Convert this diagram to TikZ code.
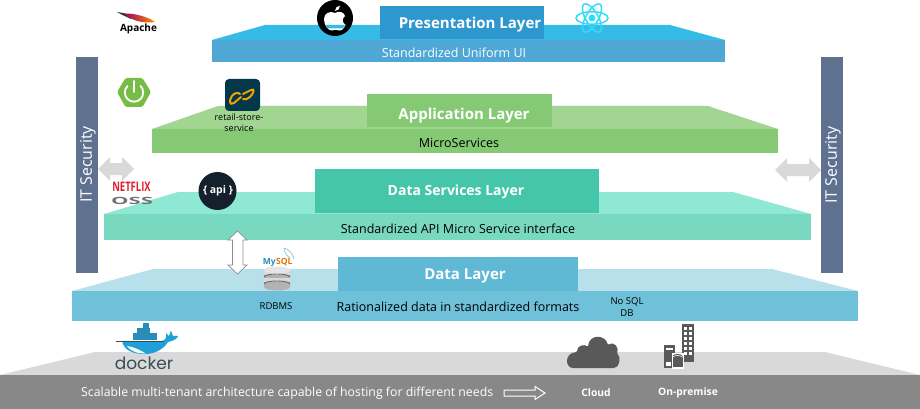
\documentclass[tikz,border=0pt]{standalone}
\usepackage{fontspec}
\setmainfont{Open Sans}
\newfontfamily\dockfont{Poppins}
\usetikzlibrary{calc}
\definecolor{preF}{HTML}{4FA7D6}\definecolor{preT}{HTML}{36BBE7}\definecolor{preB}{HTML}{2E97CE}
\definecolor{appF}{HTML}{85C974}\definecolor{appT}{HTML}{A2D492}\definecolor{appB}{HTML}{85C974}
\definecolor{dsF}{HTML}{79D9C0}\definecolor{dsT}{HTML}{8FE8D4}\definecolor{dsB}{HTML}{45C6A8}
\definecolor{daF}{HTML}{6EC1D8}\definecolor{daT}{HTML}{B8E0EB}\definecolor{daB}{HTML}{5FB8D4}
\definecolor{grF}{HTML}{888888}\definecolor{grT}{HTML}{D9D9D9}
\definecolor{sec}{HTML}{5E7290}\definecolor{icon}{HTML}{595959}
\definecolor{dockB}{HTML}{2A8DB8}\definecolor{dockL}{HTML}{1FA0D8}\definecolor{dockT}{HTML}{394D54}
\definecolor{reactC}{HTML}{2FDCFB}\definecolor{springC}{HTML}{77BC45}\definecolor{retailC}{HTML}{03384A}
\definecolor{chainC}{HTML}{F5A000}\definecolor{apiC}{HTML}{14202B}\definecolor{nfxC}{HTML}{E0202E}
\tikzset{
 lbl/.style={inner sep=0pt,align=center,font=\fontsize{12.5}{14}\selectfont},
 small/.style={inner sep=0pt,align=center,font=\fontsize{9.5}{12}\selectfont},
 ttl/.style={inner sep=0pt,font=\fontsize{15}{18}\selectfont\bfseries},
 sect/.style={text=white,rotate=90,inner sep=0pt,font=\fontsize{16}{18}\selectfont},
 secbar/.style={fill=sec,draw=none},
 gbar/.style={fill=grT,draw=none},
 basebold/.style={text=white,inner sep=0pt,font=\fontsize{10.3}{12}\selectfont\bfseries},
}
\begin{document}
\begin{tikzpicture}[x=1pt,y=-1pt]
\useasboundingbox (0,0) rectangle (920,409);
\fill[white] (0,0) rectangle (920,409);
% base
\fill[grT] (0,375) -- (95,352) -- (825,352) -- (920,375) -- cycle;
\fill[grF] (0,375) rectangle (920,409);
% data layer
\fill[daT] (72,291) -- (153,269) -- (772,269) -- (858,291) -- cycle;
\fill[daF] (72,291) rectangle (858,321);
\fill[daB] (338,257) rectangle (578,291);
\node[ttl,text=white] (dat) at (465,276) {Data Layer};
\node[lbl] (datl) at (458,306.5) {Rationalized data in standardized formats};
% data services
\fill[dsT] (104,214) -- (178,192) -- (733,192) -- (811,214) -- cycle;
\fill[dsF] (104,214) rectangle (811,240);
\fill[dsB] (315,169) rectangle (599,213);
\node[ttl,text=white,font=\fontsize{14}{18}\selectfont\bfseries] (dst) at (456,192) {Data Services Layer};
\node[lbl] (dsl) at (458,229) {Standardized API Micro Service interface};
% application
\fill[appT] (152,129) -- (218,106) -- (708,106) -- (778,129) -- cycle;
\fill[appF] (152,129) rectangle (778,153);
\fill[appB] (367,94) rectangle (552,127);
\node[ttl,text=white] (apt) at (464,116) {Application Layer};
\node[lbl] (apl) at (459,142.5) {MicroServices};
% presentation
\fill[preT] (212,40) -- (265,25) -- (670,25) -- (725,40) -- cycle;
\fill[preF] (212,40) rectangle (725,62);
\fill[preB] (380,6) rectangle (544,39);
\node[ttl,text=white] (prt) at (470,25) {Presentation Layer};
\node[lbl,text=white] (prl) at (454,52.5) {Standardized Uniform UI};
% security
\fill[secbar] (76,57) rectangle (98,273);
\fill[secbar] (821,57) rectangle (843,273);
\node[sect] (secl) at (88,164.5) {IT Security};
\node[sect] (secr) at (833,165) {IT Security};
% grey double arrows
\fill[gbar] (98,169) -- (110,157) -- (110,163) -- (122,163) -- (122,157) -- (134,169) -- (122,181) -- (122,175) -- (110,175) -- (110,181) -- cycle;
\fill[gbar] (775,170) -- (787,158) -- (787,164) -- (809,164) -- (809,158) -- (821,170) -- (809,182) -- (809,176) -- (787,176) -- (787,182) -- cycle;
% vertical arrow
\draw[draw=black!45,fill=white,line width=.7pt] (237.5,231) -- (247,240) -- (243,240) -- (243,265) -- (247,265) -- (237.5,274) -- (228,265) -- (232.5,265) -- (232.5,240) -- (228,240) -- cycle;
% base texts
\node[anchor=west,text=white,inner sep=0pt,font=\fontsize{12.3}{14}\selectfont] (base) at (81,393) {Scalable multi-tenant architecture capable of hosting for different needs};
\draw[white,fill=grF,line width=1pt] (504,390) -- (535,390) -- (535,386.5) -- (545,393) -- (535,399.5) -- (535,396) -- (504,396) -- cycle;
\node[basebold] (cl) at (596,392.5) {Cloud};
\node[basebold] (onp) at (688,393) {On-premise};
\node[small] (rdb) at (276,306.5) {RDBMS};
\node[small] (nos) at (627,307) {No SQL\\DB};
\node[small,font=\fontsize{9}{11}\selectfont] (rss) at (239,123) {retail-store-\\service};
% apache
\fill[black!80] (117,12) .. controls (124,13) and (128,14) .. (132,16) -- (131,19) .. controls (127,17) and (122,15) .. (117,12) -- cycle;
\shade[left color=purple!80!blue,right color=orange!90!yellow] (124,13.5) .. controls (135,13) and (148,17) .. (155,22) .. controls (143,24) and (130,20) .. (124,13.5) -- cycle;
\node[inner sep=0pt,font=\fontsize{10}{11}\selectfont\bfseries] (apa) at (138.5,28.5) {Apache};
% apple
\fill[black] (335,18) circle (18);
\fill[white] (335,13) .. controls (339,10.5) and (344,12) .. (345,16) .. controls (342,18) and (342,23) .. (345.5,25) .. controls (344,28) and (342,31) .. (339,30.5) .. controls (337,29.5) and (334,29.5) .. (332,30.5) .. controls (328,31) and (324,25) .. (324,19) .. controls (324,13) and (330,10.5) .. (335,13) -- cycle;
\fill[white] (335,11) .. controls (335,8) and (337,6) .. (340,5.5) .. controls (340,8.5) and (338,11) .. (335,11) -- cycle;
\fill[preT] (325.5,25) -- (345.5,25) -- (342.5,28.5) -- (327.5,28.5) -- cycle;
% react
\begin{scope}[shift={(592,18)}]
 \foreach \a in {0,60,120}{\draw[reactC,line width=1.5pt,rotate=\a] (0,0) ellipse (16 and 6.2);}
 \fill[reactC] (0,0) circle (3.4);
\end{scope}
% spring
\fill[springC,rounded corners=1.5pt] (117,92) -- (125.5,78) -- (142.5,78) -- (151,92) -- (142.5,107) -- (125.5,107) -- cycle;
\draw[white,line width=1.8pt,line cap=round] (127.5,86) arc[start angle=225,end angle=-45,radius=9.2];
\draw[white,line width=1.8pt,line cap=round] (134,81) -- (134,92);
% retail
\fill[retailC,rounded corners=4pt] (225,79) rectangle (260,111);
\draw[chainC,line width=2pt,line cap=round] (241,97) -- (234,103) .. controls (229,106) and (229,100) .. (232,96) .. controls (234,93) and (238,92) .. (240,94);
\draw[chainC,line width=2pt,line cap=round] (243,94) -- (251,90) .. controls (255,88) and (254,93) .. (250,97) .. controls (248,99) and (245,100) .. (243,99);
% netflix
\node[inner sep=0pt,text=nfxC,xscale=.9,yscale=1.25,font=\fontsize{10.5}{12}\selectfont\bfseries] (nfx) at (131.5,187) {NETFLIX};
\node[inner sep=0pt,text=black!55,xscale=2.1,yscale=.95,font=\fontsize{10.5}{10}\selectfont\bfseries] (oss) at (132,201) {OSS};
% api
\fill[apiC] (217.5,191) circle (19);
\node[text=white,inner sep=0pt,font=\fontsize{10.5}{11}\selectfont\bfseries] (api) at (218,191) {\{ api \}};
% mysql
\fill[black!30] (264,270) rectangle (290,287);
\fill[black!30] (277,287) ellipse (13 and 3.5);
\fill[black!15] (264,270) rectangle (290,275);
\fill[black!15] (264,278) rectangle (290,282);
\draw[black!60,line width=.9pt] (264,277) arc[start angle=180,end angle=360,x radius=13,y radius=3];
\draw[black!60,line width=.9pt] (264,284) arc[start angle=180,end angle=360,x radius=13,y radius=3];
\fill[black!10] (277,270) ellipse (13 and 3.5);
\node[inner sep=0pt,text=dockB,font=\fontsize{8.5}{9}\selectfont\bfseries,anchor=east] (myq) at (276,262) {My};
\node[inner sep=0pt,text=orange!90!black,font=\fontsize{8.5}{9}\selectfont\bfseries,anchor=west] (myr) at (276,262) {SQL};
\draw[dockB!60,line width=.6pt] (284,248) .. controls (289,249) and (293,254) .. (294,259);
\draw[dockB!60,line width=.6pt] (284,248) .. controls (284,252) and (287,256) .. (290,258);
% docker
\fill[dockB] (133,333) rectangle (157,339.5);
\fill[dockB] (137,328) rectangle (150,333);
\fill[dockB] (142.5,323) rectangle (149,328);
\fill[dockL] (122,341) -- (161,341) .. controls (165,341) and (167,338) .. (166,333) -- (169,336) -- (171,330.5) -- (173,336) .. controls (176,335) and (177,336) .. (178,336.5) .. controls (176,340) and (172,341) .. (168,342) .. controls (163,350) and (154,354) .. (145,354) .. controls (132,354) and (124,350) .. (122,341) -- cycle;
\fill[white] (127,346) .. controls (132,353) and (140,353.5) .. (146,353.5) .. controls (140,350) and (134,347) .. (127,346) -- cycle;
\draw[dockT,line width=.7pt] (116,341) -- (164,341);
\node[inner sep=0pt,text=dockT,font=\fontsize{17}{19}\selectfont\dockfont] (dck) at (144,363) {docker};
% cloud
\fill[icon,rounded corners=1pt] (574,368) .. controls (565,368) and (564,353) .. (577,352) .. controls (577,345) and (585,344) .. (588,347) .. controls (589,334) and (605,334) .. (608,345) .. controls (615,341) and (619,348) .. (617,354) .. controls (621,356) and (620,368) .. (613,368) -- cycle;
% on-premise
\fill[icon] (682,324) rectangle (694,362);
\foreach \y in {327,332,337,342,347,352}{\foreach \x in {684,688.5}{\fill[white] (\x,\y) rectangle +(3.2,3);}}
\fill[icon] (664,345) rectangle (675,368);
\fill[white] (666,348) rectangle (673,350);
\fill[white] (666,362) rectangle (671,366);
\fill[white] (671.5,353) rectangle (684,369);
\fill[icon] (672.5,356) rectangle (682.5,367);
\fill[icon] (677.5,356) ellipse (5 and 2);
\draw[white,line width=.6pt] (672.5,357.5) arc[start angle=180,end angle=360,x radius=5,y radius=2];
\end{tikzpicture}
\end{document}
